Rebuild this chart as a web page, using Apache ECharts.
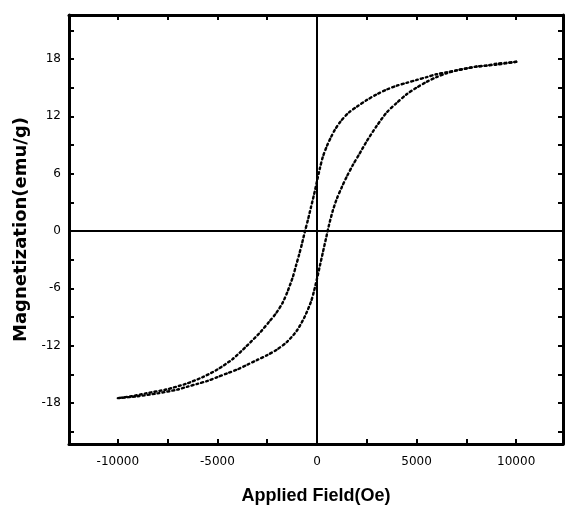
<!DOCTYPE html>
<html>
<head>
<meta charset="utf-8">
<script src="https://cdn.jsdelivr.net/npm/echarts@6/dist/echarts.min.js"></script>
<style>
html,body{margin:0;padding:0;background:#fff;}
#chart{width:565px;height:507px;}
</style>
</head>
<body>
<div id="chart"></div>
<script>
// Descending branch (field swept from +10000 to -10000 Oe): [H (Oe), M (emu/g)]
var descendingBranch = [
  [10000, 17.7], [9500, 17.6], [9000, 17.5], [8500, 17.3], [8000, 17.2], [7500, 17.0],
  [7000, 16.8], [6500, 16.6], [6000, 16.4], [5500, 16.1], [5000, 15.8], [4500, 15.5],
  [4000, 15.2], [3500, 14.8], [3000, 14.3], [2500, 13.7], [2000, 13.0], [1600, 12.4],
  [1200, 11.5], [900, 10.6], [700, 9.8], [500, 8.9], [300, 7.8], [150, 6.6], [0, 5.2],
  [-150, 3.8], [-300, 2.5], [-450, 1.2], [-600, 0.0], [-750, -1.3], [-900, -2.5],
  [-1050, -3.6], [-1210, -4.8], [-1470, -6.3], [-1720, -7.5], [-2050, -8.6],
  [-2400, -9.5], [-2890, -10.7], [-3560, -12.1], [-4230, -13.4], [-5000, -14.5],
  [-5740, -15.3], [-6580, -16.0], [-7580, -16.6], [-8590, -17.0], [-9300, -17.3],
  [-10000, -17.5]
];
// Ascending branch (field swept from -10000 to +10000 Oe)
var ascendingBranch = [
  [-10000, -17.5], [-9000, -17.3], [-8000, -17.0], [-7000, -16.6], [-6500, -16.3],
  [-6000, -16.0], [-5500, -15.7], [-5000, -15.3], [-4500, -14.9], [-4000, -14.5],
  [-3500, -14.0], [-3000, -13.5], [-2500, -13.0], [-2000, -12.4], [-1500, -11.6],
  [-1000, -10.4], [-600, -8.9], [-300, -7.4], [-150, -6.3], [0, -5.0], [150, -3.6],
  [300, -2.2], [450, -0.8], [600, 0.6], [790, 2.1], [1000, 3.4], [1250, 4.6],
  [1500, 5.7], [1800, 6.9], [2140, 8.1], [2500, 9.4], [3000, 11.0], [3500, 12.4],
  [4000, 13.4], [4500, 14.3], [5000, 15.0], [5500, 15.6], [6000, 16.1], [6500, 16.5],
  [7000, 16.8], [8000, 17.2], [9000, 17.4], [10000, 17.7]
];
// Tick positions and labels
var xTickValues = [-10000, -7500, -5000, -2500, 0, 2500, 5000, 7500, 10000];
var xLabelValues = [-10000, -5000, 0, 5000, 10000];
var yTickValues = [-21, -18, -15, -12, -9, -6, -3, 0, 3, 6, 9, 12, 15, 18, 21];
var yLabelValues = [-18, -12, -6, 0, 6, 12, 18];
var xRange = [-12450, 12350];
var yRange = [-22.3, 22.6];
var xTitle = 'Applied Field(Oe)';
var yTitle = 'Magnetization(emu/g)';

var chart = echarts.init(document.getElementById('chart'), null, {renderer: 'canvas'});

var axisLine = {show: true, onZero: false, lineStyle: {color: '#000', width: 3}};
var tick = function (vals) {
  return {show: true, inside: true, length: 5, customValues: vals, lineStyle: {color: '#000', width: 2}};
};
var curveStyle = {color: '#000', width: 2.4, type: [2, 3], cap: 'round'};

var option = {
  backgroundColor: '#fff',
  animation: false,
  grid: {left: 69, right: 2, top: 15, bottom: 63, containLabel: false, outerBoundsMode: 'none'},
  xAxis: [{
    type: 'value', position: 'bottom', min: xRange[0], max: xRange[1],
    axisLine: axisLine, axisTick: tick(xTickValues), splitLine: {show: false},
    axisLabel: {customValues: xLabelValues, color: '#000', fontSize: 12,
      fontFamily: 'DejaVu Sans, sans-serif', margin: 12,
      formatter: function (v) { return String(v); }},
    name: xTitle, nameLocation: 'middle', nameGap: 43,
    nameTextStyle: {color: '#000', fontSize: 18, fontWeight: 'bold', fontFamily: 'Liberation Sans, Arial, sans-serif'}
  }, {
    type: 'value', position: 'top', min: xRange[0], max: xRange[1],
    axisLine: axisLine, axisTick: tick(xTickValues), splitLine: {show: false},
    axisLabel: {show: false}
  }],
  yAxis: [{
    type: 'value', position: 'left', min: yRange[0], max: yRange[1],
    axisLine: axisLine, axisTick: tick(yTickValues), splitLine: {show: false},
    axisLabel: {customValues: yLabelValues, color: '#000', fontSize: 12,
      fontFamily: 'DejaVu Sans, sans-serif', margin: 8,
      formatter: function (v) { return String(v); }},
    name: yTitle, nameLocation: 'middle', nameGap: 35, nameRotate: 90,
    nameTextStyle: {color: '#000', fontSize: 18, fontWeight: 'bold', fontFamily: 'DejaVu Sans, sans-serif'}
  }, {
    type: 'value', position: 'right', min: yRange[0], max: yRange[1],
    axisLine: axisLine, axisTick: tick(yTickValues), splitLine: {show: false},
    axisLabel: {show: false}
  }],
  series: [{
    name: 'descending', type: 'line', data: descendingBranch, showSymbol: false,
    smooth: 0.25, lineStyle: curveStyle, silent: true,
    markLine: {
      silent: true, symbol: 'none', animation: false,
      label: {show: false},
      lineStyle: {color: '#000', width: 2, type: 'solid'},
      data: [{xAxis: 0}, {yAxis: 0}]
    }
  }, {
    name: 'ascending', type: 'line', data: ascendingBranch, showSymbol: false,
    smooth: 0.25, lineStyle: curveStyle, silent: true
  }]
};
chart.setOption(option);
</script>
</body>
</html>
